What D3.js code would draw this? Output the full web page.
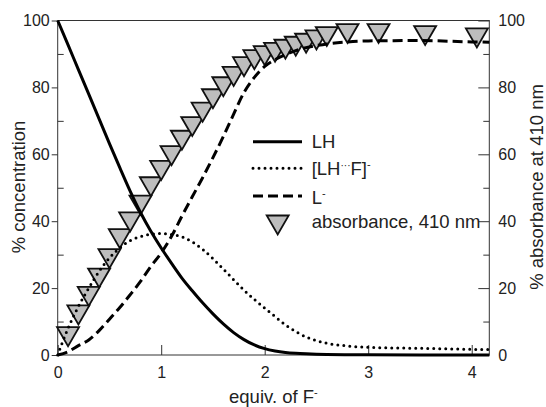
<!DOCTYPE html>
<html>
<head>
<meta charset="utf-8">
<style>
  body { margin: 0; background: #fff; }
  text { font-family: "Liberation Sans", Arial, sans-serif; fill: #222; }
</style>
</head>
<body>
<svg width="546" height="407"></svg>
<script src="https://d3js.org/d3.v7.min.js"></script>
<script>
// equivalents of F- for the computed speciation curves
var eqX = [0, 0.1, 0.2, 0.3, 0.4, 0.5, 0.6, 0.7, 0.8, 0.9, 1.0, 1.1, 1.2, 1.3, 1.4, 1.5,
  1.6, 1.7, 1.8, 1.9, 2.0, 2.1, 2.2, 2.3, 2.4, 2.5, 2.6, 2.8, 3.0, 3.5, 4.0, 4.17];
var lhVals = [100, 92.7, 85.3, 78, 70.6, 63.2, 56, 49, 42.6, 37, 32, 27.4, 23, 19.2, 15.6, 12.3,
  9.3, 6.7, 4.6, 3.0, 1.9, 1.2, 0.75, 0.5, 0.35, 0.25, 0.18, 0.1, 0.05, 0, 0, 0];
var complexVals = [0, 8, 14.5, 20, 25, 29, 32, 34.2, 35.4, 36.1, 36.3, 36.0, 35.3, 33.8, 31.6, 28.8,
  25.7, 22.5, 19.4, 16.6, 14.0, 11.5, 9.0, 7.0, 5.4, 4.3, 3.5, 2.7, 2.3, 2.0, 1.7, 1.6];
var lVals = [0, 1.0, 2.8, 4.5, 7.3, 10.7, 14.2, 18, 22, 26.5, 30.5, 35.5, 41.5, 47.3, 53, 59,
  65.3, 72, 78.5, 83, 86.3, 88.3, 89.8, 91, 91.9, 92.5, 93, 93.6, 93.9, 94, 93.6, 93.5];

// measured absorbance at 410 nm
var absX = [0.1, 0.2, 0.3, 0.4, 0.5, 0.6, 0.7, 0.8, 0.9, 1.0, 1.1, 1.2, 1.3, 1.4, 1.5, 1.6,
  1.7, 1.8, 1.9, 2.0, 2.1, 2.2, 2.3, 2.4, 2.5, 2.6, 2.8, 3.1, 3.55, 4.05];
var absVals = [5.5, 12, 17.5, 23, 28.8, 34.8, 39.8, 44.8, 50.3, 55.2, 59.6, 64.2, 68.3, 72.6, 76.6, 80.2,
  83.3, 86.2, 88.3, 89.5, 90.5, 91.4, 92.3, 93.2, 94.2, 95.2, 96.1, 96.1, 95.5, 94.8];

var xTicks = [0, 1, 2, 3, 4];
var yMajor = [0, 20, 40, 60, 80, 100];
var yMinor = [10, 30, 50, 70, 90];

var svg = d3.select('svg');
var x = d3.scaleLinear().domain([0, 4.17]).range([57.7, 489.3]);
var y = d3.scaleLinear().domain([0, 100]).range([355, 20.5]);

// frame
svg.append('rect')
  .attr('x', x(0)).attr('y', y(100))
  .attr('width', x(4.17) - x(0)).attr('height', y(0) - y(100))
  .attr('fill', 'none').attr('stroke', '#333').attr('stroke-width', 1);

function styleAxis(g) {
  g.select('.domain').remove();
  g.selectAll('line').attr('stroke', '#333');
  g.selectAll('text').attr('font-size', 16).attr('fill', '#222')
    .attr('font-family', '"Liberation Sans", Arial, sans-serif');
}

// left axis: labelled ticks outward, minor ticks inward
svg.append('g').attr('transform', `translate(${x(0)},0)`)
  .call(d3.axisLeft(y).tickValues(yMajor).tickSizeInner(6).tickSizeOuter(0).tickPadding(2))
  .call(styleAxis);
svg.append('g').attr('transform', `translate(${x(0)},0)`)
  .call(d3.axisRight(y).tickValues(yMinor).tickSize(6).tickFormat(''))
  .call(styleAxis);

// right axis
svg.append('g').attr('transform', `translate(${x(4.17)},0)`)
  .call(d3.axisRight(y).tickValues(yMajor).tickSizeInner(-11).tickSizeOuter(0).tickPadding(9))
  .call(styleAxis);
svg.append('g').attr('transform', `translate(${x(4.17)},0)`)
  .call(d3.axisLeft(y).tickValues(yMinor).tickSize(6).tickFormat(''))
  .call(styleAxis);

// bottom axis
svg.append('g').attr('transform', `translate(0,${y(0)})`)
  .call(d3.axisBottom(x).tickValues(xTicks).tickFormat(d3.format('d'))
    .tickSizeInner(-10).tickSizeOuter(0).tickPadding(12))
  .call(styleAxis);

// triangles
var tri = 'M-11,-9.5L11,-9.5L0,9.5Z';
svg.append('g').selectAll('path')
  .data(absX.map(function (d, i) { return [d, absVals[i]]; }))
  .enter().append('path')
  .attr('d', tri)
  .attr('transform', function (d) { return `translate(${x(d[0])},${y(d[1])})`; })
  .attr('fill', '#bdbdbd').attr('stroke', '#111').attr('stroke-width', 1.8);

// curves
var line = d3.line()
  .x(function (d) { return x(d[0]); })
  .y(function (d) { return y(d[1]); })
  .curve(d3.curveMonotoneX);

var series = [
  { vals: lhVals, dash: null, cap: 'butt' },
  { vals: complexVals, dash: '0,6', cap: 'round' },
  { vals: lVals, dash: '10,5', cap: 'butt' }
];
series.forEach(function (s) {
  svg.append('path')
    .datum(eqX.map(function (d, i) { return [d, s.vals[i]]; }))
    .attr('fill', 'none').attr('stroke', '#000').attr('stroke-width', 3)
    .attr('stroke-linecap', s.cap)
    .attr('stroke-dasharray', s.dash)
    .attr('d', line);
});

// legend
var leg = svg.append('g').attr('font-size', 18.5);
var legY = [141.7, 168.3, 196];
series.forEach(function (s, i) {
  leg.append('line')
    .attr('x1', 253).attr('x2', 302).attr('y1', legY[i]).attr('y2', legY[i])
    .attr('stroke', '#000').attr('stroke-width', 3)
    .attr('stroke-linecap', s.cap)
    .attr('stroke-dasharray', s.dash);
});
leg.append('text').attr('x', 311.7).attr('y', 142).attr('dy', '0.35em').text('LH');
var t2 = leg.append('text').attr('x', 311.7).attr('y', 168.5).attr('dy', '0.35em');
t2.append('tspan').text('[LH');
t2.append('tspan').attr('font-size', 10).attr('dy', -6).text('···');
t2.append('tspan').attr('dy', 6).text('F]');
t2.append('tspan').attr('font-size', 11).attr('dy', -7).text('-');
var t3 = leg.append('text').attr('x', 311.7).attr('y', 198).attr('dy', '0.35em');
t3.append('tspan').text('L');
t3.append('tspan').attr('font-size', 11).attr('dy', -7).text('-');
leg.append('path').attr('d', tri).attr('transform', 'translate(277.7,225)')
  .attr('fill', '#bdbdbd').attr('stroke', '#111').attr('stroke-width', 1.8);
leg.append('text').attr('x', 311.7).attr('y', 222).attr('dy', '0.35em').text('absorbance, 410 nm');

// axis titles
var xt = svg.append('text').attr('x', 273.4).attr('y', 402.5)
  .attr('text-anchor', 'middle').attr('font-size', 18.5);
xt.append('tspan').text('equiv. of F');
xt.append('tspan').attr('font-size', 11).attr('dy', -7).text('-');

svg.append('text').attr('transform', 'translate(25,187) rotate(-90)')
  .attr('text-anchor', 'middle').attr('font-size', 18.5).text('% concentration');
svg.append('text').attr('transform', 'translate(543,187) rotate(-90)')
  .attr('text-anchor', 'middle').attr('font-size', 18.5).text('% absorbance at 410 nm');
</script>
</body>
</html>
